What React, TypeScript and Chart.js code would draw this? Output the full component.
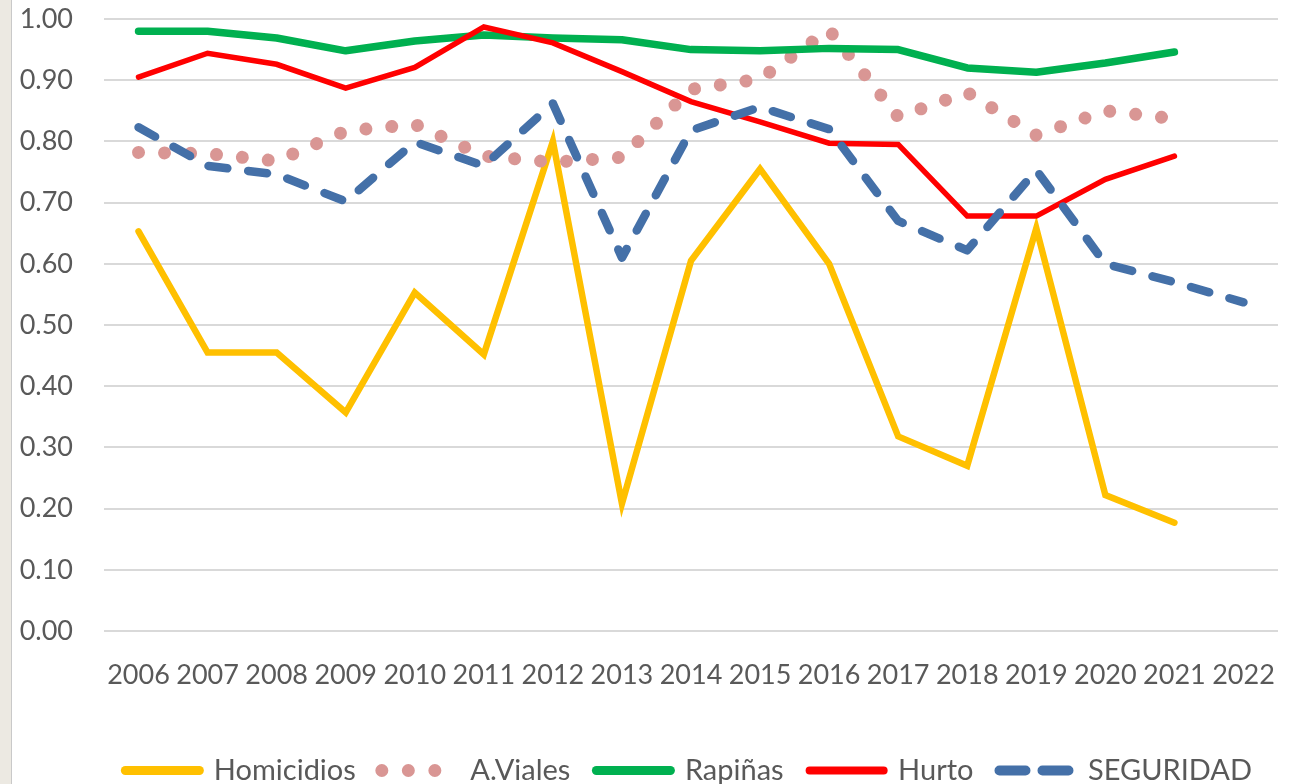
import React, { useEffect, useRef } from "react";
import { Chart, registerables } from "chart.js";

Chart.register(...registerables);

const years = ["2006", "2007", "2008", "2009", "2010", "2011", "2012", "2013", "2014", "2015", "2016", "2017", "2018", "2019", "2020", "2021", "2022"];
const homicidios = [0.653, 0.455, 0.455, 0.357, 0.553, 0.452, 0.8, 0.208, 0.605, 0.755, 0.6, 0.318, 0.27, 0.658, 0.222, 0.177, null];
const aViales = [0.782, 0.78, 0.768, 0.817, 0.828, 0.776, 0.766, 0.774, 0.885, 0.902, 0.982, 0.84, 0.88, 0.81, 0.85, 0.837, null];
const rapinas = [0.98, 0.98, 0.969, 0.948, 0.964, 0.974, 0.969, 0.966, 0.95, 0.948, 0.952, 0.95, 0.92, 0.913, 0.928, 0.946, null];
const hurto = [0.905, 0.944, 0.926, 0.887, 0.921, 0.987, 0.961, 0.914, 0.865, 0.832, 0.797, 0.795, 0.678, 0.678, 0.738, 0.776, null];
const seguridad = [0.823, 0.76, 0.746, 0.702, 0.799, 0.76, 0.862, 0.61, 0.818, 0.856, 0.82, 0.67, 0.622, 0.753, 0.6, 0.57, 0.537];

const FONT = "Lato, 'Open Sans', sans-serif";
const TEXT = "#595959";

export default function App() {
  const ref = useRef<HTMLCanvasElement | null>(null);

  useEffect(() => {
    if (!ref.current) return;
    const chart = new Chart(ref.current, {
      type: "line",
      data: {
        labels: years,
        datasets: [
          {
            label: "Homicidios",
            data: homicidios,
            borderColor: "#FFC000",
            backgroundColor: "#FFC000",
            borderWidth: 6.5,
            borderCapStyle: "round",
            borderJoinStyle: "miter",
            order: 5,
            legendWidth: 9,
            legendDash: [],
          },
          {
            label: "A.Viales",
            data: aViales,
            borderColor: "#D99694",
            backgroundColor: "#D99694",
            borderWidth: 13,
            borderCapStyle: "round",
            borderJoinStyle: "round",
            borderDash: [0.01, 26],
            order: 4,
            legendWidth: 13,
            legendDash: [0.01, 26.5],
          },
          {
            label: "Rapiñas",
            data: rapinas,
            borderColor: "#00B050",
            backgroundColor: "#00B050",
            borderWidth: 7.5,
            borderCapStyle: "round",
            borderJoinStyle: "round",
            order: 3,
            legendWidth: 9,
            legendDash: [],
          },
          {
            label: "Hurto",
            data: hurto,
            borderColor: "#FF0000",
            backgroundColor: "#FF0000",
            borderWidth: 5.5,
            borderCapStyle: "round",
            borderJoinStyle: "miter",
            order: 2,
            legendWidth: 8,
            legendDash: [],
          },
          {
            label: "SEGURIDAD",
            data: seguridad,
            borderColor: "#4470A8",
            backgroundColor: "#4470A8",
            borderWidth: 8.5,
            borderCapStyle: "round",
            borderJoinStyle: "round",
            borderDash: [19, 21],
            order: 1,
            legendWidth: 10,
            legendDash: [26, 17],
          },
        ] as any,
      },
      options: {
        responsive: false,
        animation: false,
        events: [],
        elements: { point: { radius: 0 }, line: { tension: 0 } },
        layout: { padding: { left: 14, right: 16, top: 19, bottom: 0 } },
        scales: {
          x: {
            offset: true,
            grid: { display: false, drawTicks: false },
            border: { display: false },
            ticks: { color: TEXT, font: { family: FONT, size: 27 }, padding: 28, maxRotation: 0, autoSkip: false },
            afterFit: (s: any) => {
              s.height = 99;
              s.paddingLeft = 0;
              s.paddingRight = 0;
            },
          },
          y: {
            min: 0,
            max: 1,
            grid: { color: "#D9D9D9", lineWidth: 2, drawTicks: false },
            border: { display: false },
            ticks: {
              stepSize: 0.1,
              color: TEXT,
              font: { family: FONT, size: 27 },
              padding: 31,
              callback: (v: any) => Number(v).toFixed(2),
            },
            afterFit: (s: any) => {
              s.width = 90;
              s.paddingTop = 0;
              s.paddingBottom = 0;
            },
          },
        },
        plugins: {
          tooltip: { enabled: false },
          legend: {
            position: "bottom",
            align: "end",
            labels: {
              color: TEXT,
              font: { family: FONT, size: 29 },
              usePointStyle: true,
              pointStyle: "line",
              pointStyleWidth: 74,
              boxWidth: 74,
              padding: 26,
              generateLabels: (c: any) =>
                c.data.datasets.map((ds: any, i: number) => ({
                  text: ds.label,
                  fillStyle: ds.borderColor,
                  strokeStyle: ds.borderColor,
                  fontColor: TEXT,
                  lineWidth: ds.legendWidth,
                  lineCap: "round",
                  lineJoin: "round",
                  lineDash: ds.legendDash,
                  lineDashOffset: 0,
                  pointStyle: "line",
                  hidden: false,
                  datasetIndex: i,
                })),
            },
          },
        },
      },
    });
    return () => chart.destroy();
  }, []);

  return (
    <div style={{ position: "fixed", left: 0, top: 0, width: 1294, height: 784, overflow: "hidden", background: "#FFFFFF" }}>
      <div style={{ position: "absolute", left: 0, top: 0, width: 11, height: 784, background: "#ECE9E2", borderRight: "1px solid #C9C9C9" }} />
      <canvas ref={ref} width={1294} height={795} style={{ position: "absolute", left: 0, top: 0, width: 1294, height: 795 }} />
    </div>
  );
}
